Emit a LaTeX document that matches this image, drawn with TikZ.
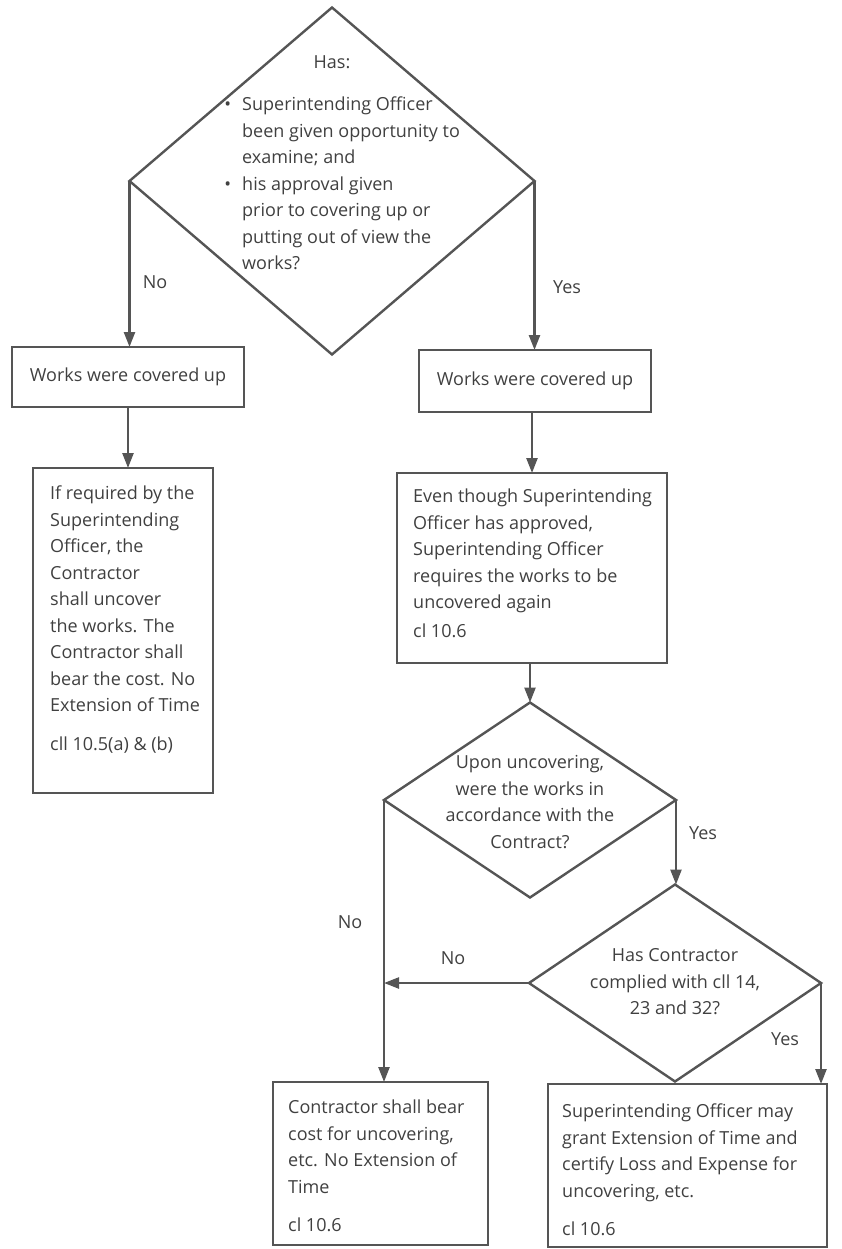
\documentclass[tikz,border=0pt]{standalone}
\usepackage{fontspec}
\setmainfont{Open Sans}
\usetikzlibrary{shapes.geometric,arrows.meta}

\definecolor{linegray}{HTML}{555555}
\definecolor{textgray}{HTML}{404040}

\tikzset{
  decision/.style={diamond, draw=linegray, line width=2.4pt, inner sep=0pt, outer sep=0pt},
  box/.style={rectangle, draw=linegray, line width=2.4pt, inner sep=0pt, outer sep=0pt},
  txt/.style={text=textgray, font=\fontsize{18}{26.5}\selectfont, inner sep=0pt},
  arr/.style={draw=linegray, line width=2.4pt, -{Triangle[length=15pt,width=11pt]}},
}

\begin{document}
\begin{tikzpicture}[x=1pt, y=-1pt]
\useasboundingbox (0,0) rectangle (842,1249);

% first question
\node[decision, minimum width=405pt, minimum height=347pt] (q1) at (332,181) {};
\node[txt] (q1has) at (332,62) {Has:};
\node[txt, align=left, anchor=north west] (q1txt) at (242,97) {%
  \llap{\textbullet\hspace{11pt}}Superintending Officer\\
  been given opportunity to\\
  examine; and\\
  \llap{\textbullet\hspace{11pt}}his approval given\\
  prior to covering up or\\
  putting out of view the\\
  works?};

% covered up boxes
\node[box, txt, minimum width=232pt, minimum height=60pt] (a1) at (128,377) {Works were covered up};
\node[box, txt, minimum width=232pt, minimum height=62pt] (a2) at (535,381) {Works were covered up};

% outcome boxes
\node[box, minimum width=180pt, minimum height=325pt] (b1) at (123,630.5) {};
\node[txt, align=left, anchor=north west] (b1txt) at ([xshift=17pt,yshift=-18pt]b1.north west) {%
  If required by the\\
  Superintending\\
  Officer, the\\
  Contractor\\
  shall uncover\\
  the works. The\\
  Contractor shall\\
  bear the cost. No\\
  Extension of Time\\[12pt]
  cll 10.5(a) \& (b)};

\node[box, minimum width=270pt, minimum height=190pt] (b2) at (532,568) {};
\node[txt, align=left, anchor=north west] (b2txt) at ([xshift=16pt,yshift=-16pt]b2.north west) {%
  Even though Superintending\\
  Officer has approved,\\
  Superintending Officer\\
  requires the works to be\\
  uncovered again\\[2pt]
  cl 10.6};

% second and third questions
\node[decision, minimum width=292pt, minimum height=195pt] (q2) at (530,800) {};
\node[txt, align=center] (q2txt) at (530,802) {%
  Upon uncovering,\\
  were the works in\\
  accordance with the\\
  Contract?};

\node[decision, minimum width=292pt, minimum height=197pt] (q3) at (675,983) {};
\node[txt, align=center] (q3txt) at (675,982) {%
  Has Contractor\\
  complied with cll 14,\\
  23 and 32?};

% final boxes
\node[box, minimum width=215pt, minimum height=163pt] (c1) at (380.5,1163.5) {};
\node[txt, align=left, anchor=north west] (c1txt) at ([xshift=15pt,yshift=-18pt]c1.north west) {%
  Contractor shall bear\\
  cost for uncovering,\\
  etc. No Extension of\\
  Time\\[12pt]
  cl 10.6};

\node[box, minimum width=279pt, minimum height=163pt] (c2) at (687.5,1165.5) {};
\node[txt, align=left, anchor=north west] (c2txt) at ([xshift=14pt,yshift=-20pt]c2.north west) {%
  Superintending Officer may\\
  grant Extension of Time and\\
  certify Loss and Expense for\\
  uncovering, etc.\\[12pt]
  cl 10.6};

% answers
\node[txt] (no1) at (155,282) {No};
\node[txt] (yes1) at (567,287) {Yes};
\node[txt] (yes2) at (703,833) {Yes};
\node[txt] (no2) at (350,922) {No};
\node[txt] (no3) at (453,958) {No};
\node[txt] (yes3) at (785,1039) {Yes};

% connectors
\draw[arr] (q1.west) -- (q1.west |- a1.north);
\draw[arr] (q1.east) -- (q1.east |- a2.north);
\draw[arr] (a1.south) -- (a1.south |- b1.north);
\draw[arr] (b2.north |- a2.south) -- (b2.north);
\draw[arr] (q2.north |- b2.south) -- (q2.north);
\draw[arr] (q2.west) -- (q2.west |- c1.north);
\draw[arr] (q2.east) -- (q2.east |- q3.north);
\draw[arr] (q3.west) -- (q3.west -| q2.west);
\draw[arr] (q3.east) -- (q3.east |- c2.north);

\end{tikzpicture}
\end{document}
